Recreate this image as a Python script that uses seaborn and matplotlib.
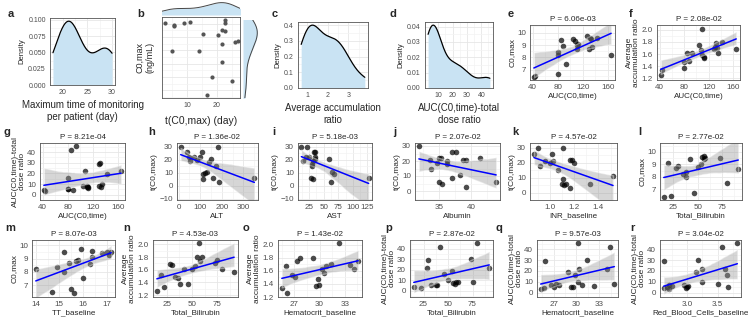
import matplotlib
matplotlib.use("Agg")
import matplotlib.pyplot as plt
from matplotlib.ticker import MultipleLocator, AutoMinorLocator, NullFormatter
from matplotlib.collections import PathCollection
import seaborn as sns

# ---- distributions (a, c, d) ----
monitor_days = [18, 19, 20, 20, 21, 21, 21, 21, 22, 22, 22, 23, 24, 26, 28, 28, 29, 29, 30, 30]
accum_ratio_all = [0.7, 0.8, 0.9, 1.0, 1.1, 1.2, 1.2, 1.3, 1.4, 1.6, 1.8, 2.0, 2.2, 2.3, 2.4, 2.5, 2.7, 2.9, 3.1, 3.8]
dose_ratio_all = [4, 3, 16, 5, 5, 42, 4, 46, 8, 22, 7, 7, 6, 29, 30, 7, 10, 19, 22, 8]

# ---- panel b ----
tmax_b = [2.4, 5.6, 5.6, 8.8, 11, 22.6, 22.6, 21.7, 22.6, 15.2, 20.4, 21.7, 26, 27, 5, 14, 21.7, 18.3, 25, 16.6]
c0max_b = [9.64, 9.56, 9.49, 9.64, 9.68, 9.75, 9.64, 9.31, 9.25, 9.13, 9.07, 8.69, 8.77, 8.81, 8.39, 8.39, 7.89, 7.2, 7.02, 6.4]

# ---- regression panels ----
e_x = [42, 44, 80, 80, 81, 85, 88, 93, 105, 108, 110, 110, 113, 127, 130, 132, 133, 135, 142, 165]
e_y = [6.4, 6.5, 6.7, 8.2, 8.4, 9.4, 8.9, 7.5, 9.5, 9.3, 9.0, 8.7, 9.1, 9.7, 8.7, 9.6, 9.5, 8.8, 9.6, 8.2]
f_x = [42, 44, 80, 80, 85, 88, 93, 105, 108, 110, 110, 112, 113, 128, 130, 132, 133, 135, 142, 165]
f_y = [1.26, 1.33, 1.37, 1.47, 1.61, 1.49, 1.61, 1.75, 1.66, 2.02, 1.58, 1.55, 1.53, 1.69, 1.72, 1.78, 1.70, 1.62, 1.80, 1.69]
g_x = [42, 44, 80, 80, 81, 85, 88, 93, 105, 108, 110, 112, 113, 130, 132, 133, 135, 142, 165, 130, 110]
g_y = [4, 3, 16, 5, 5, 42, 4, 46, 8, 22, 7, 7, 6, 29, 30, 7, 10, 19, 22, 8, 8]
h_x = [10, 40, 50, 55, 70, 85, 100, 110, 115, 115, 120, 130, 140, 150, 160, 180, 185, 175, 350]
h_y = [30, 26, 22, 19, 22, 20, 22, 26, 5, 9, 10, 11, 18, 21, 6, 30, 3, 15, 6]
i_x = [12, 15, 22, 25, 28, 30, 32, 33, 35, 35, 36, 30, 60, 62, 65, 68, 127, 20, 32]
i_y = [30, 19, 30, 22, 6, 15, 5, 26, 26, 22, 21, 17, 21, 3, 11, 9, 6, 22, 19]
j_x = [31.8, 33.5, 33.7, 34.7, 35, 35.3, 35, 35.5, 36.3, 36.3, 37, 37, 37.6, 38.3, 38.7, 39.2, 39.3, 41.5, 44]
j_y = [30, 21, 15, 19, 22, 22, 6, 5, 20, 18, 26, 9, 26, 11, 21, 21, 3, 22, 6]
k_x = [0.87, 0.9, 0.92, 0.96, 1.0, 1.02, 1.03, 1.07, 1.1, 1.11, 1.11, 1.12, 1.13, 1.17, 1.18, 1.17, 1.2, 1.33, 1.52]
k_y = [26, 30, 18, 21, 20, 26, 21, 15, 6, 9, 30, 5, 6, 22, 22, 3, 20, 6, 11]
l_x = [15, 19, 22, 28, 30, 35, 38, 38, 42, 46, 50, 53, 55, 57, 57, 58, 73, 80, 92]
l_y = [6.4, 9.1, 6.5, 8.7, 8.9, 8.2, 8.4, 8.0, 9.4, 6.7, 8.8, 9.0, 9.6, 9.7, 9.4, 9.5, 9.5, 7.5, 8.6]
m_x = [14, 14.7, 14.9, 15.2, 15.2, 15.4, 15.5, 15.6, 15.7, 15.8, 15.9, 16, 16.3, 16.4, 16.4, 16.8, 17.0, 17.1, 17.2]
m_y = [8.2, 6.5, 8.4, 9.5, 8.0, 8.7, 6.7, 6.4, 8.8, 8.9, 9.7, 7.5, 8.6, 9.6, 9.1, 9.4, 9.5, 9.3, 9.5]
n_x = [15, 19, 22, 28, 30, 33, 36, 38, 42, 46, 50, 53, 55, 57, 58, 60, 73, 75, 80, 92]
n_y = [1.26, 1.52, 1.33, 1.69, 1.68, 1.49, 1.47, 1.37, 1.62, 1.38, 1.62, 1.66, 1.80, 2.02, 1.74, 1.80, 1.70, 1.75, 1.62, 1.56]
o_x = [25.5, 26, 26.1, 26.7, 27.1, 27.3, 27.7, 29.2, 29.6, 29.8, 29.9, 30.3, 30.5, 30.8, 31.4, 32.3, 33.6, 34.1, 34.6]
o_y = [1.33, 1.68, 1.26, 1.53, 1.50, 1.75, 1.80, 1.80, 1.37, 1.47, 1.38, 1.62, 1.57, 1.67, 1.70, 2.02, 1.69, 1.62, 1.75]
p_x = [15, 22, 28, 30, 33, 38, 39, 42, 46, 50, 54, 55, 57, 58, 60, 73, 75, 80, 92]
p_y = [4, 3, 22, 29, 5, 5, 5, 42, 16, 10, 19, 7, 6, 8, 8, 30, 8, 46, 22]
q_x = [25.3, 25.8, 25.9, 26.6, 27, 27.3, 27.7, 28.9, 29.3, 29.6, 29.8, 30.2, 30.4, 30.8, 30.2, 31.4, 32.3, 34.1, 34.4, 35]
q_y = [3, 4, 29, 7, 5, 8, 7, 19, 5, 5, 16, 10, 22, 7, 46, 30, 6, 22, 42, 8]
r_x = [2.62, 2.63, 2.67, 2.7, 2.71, 2.76, 2.95, 2.98, 3.0, 3.01, 3.15, 3.18, 3.25, 3.25, 3.5, 3.57, 3.62, 3.65, 3.66, 3.82]
r_y = [29, 4, 5, 3, 7, 6, 7, 4, 5, 6, 19, 30, 22, 10, 8, 42, 22, 16, 5, 46]

p_values = ["P = 6.06e-03", "P = 2.08e-02", "P = 8.21e-04", "P = 1.36e-02", "P = 5.18e-03", "P = 2.07e-02",
            "P = 4.57e-02", "P = 2.77e-02", "P = 8.07e-03", "P = 4.53e-03", "P = 1.43e-02", "P = 2.87e-02",
            "P = 9.57e-03", "P = 3.04e-02"]

acc_lab = "Average\naccumulation ratio"
dose_lab = "AUC(C0,time)-total\ndose ratio"
tmax_lab = "t(C0,max)"

W, H = 750, 318
sns.set_theme(style="white")
plt.rcParams['font.family'] = ['Liberation Sans', 'DejaVu Sans']
fig = plt.figure(figsize=(7.5, 3.18), dpi=100)


def box(l, t, r, b):
    return [l / W, 1 - b / H, (r - l) / W, (b - t) / H]


def style(ax, xstep, ystep, size=5.8):
    ax.xaxis.set_major_locator(MultipleLocator(xstep))
    ax.yaxis.set_major_locator(MultipleLocator(ystep))
    ax.xaxis.set_minor_locator(AutoMinorLocator(2))
    ax.yaxis.set_minor_locator(AutoMinorLocator(2))
    ax.grid(which='major', color='#e6e6e6', lw=0.6)
    ax.grid(which='minor', color='#f3f3f3', lw=0.5)
    ax.set_axisbelow(True)
    ax.tick_params(which='minor', length=0)
    ax.tick_params(which='major', length=2, width=0.5, color='#333333',
                   labelsize=size, labelcolor='#4d4d4d', pad=1)
    for s in ax.spines.values():
        s.set_color('#555555')
        s.set_linewidth(0.6)


def letter(x, y, s):
    fig.text(x / W, 1 - y / H, s, fontsize=8, fontweight='bold', ha='left', va='center')


blue_fill = '#c9e3f3'

# ---- a, c, d densities ----
dens = [
    ("a", monitor_days, "Maximum time of monitoring\nper patient (day)", (50, 18, 115, 85), 5, 0.025, (8, 14), 1.0),
    ("c", accum_ratio_all, "Average accumulation\nratio", (298, 22, 368, 88), 1, 0.1, (272, 14), 1.0),
    ("d", dose_ratio_all, "AUC(C0,time)-total\ndose ratio", (425, 22, 493, 88), 10, 0.01, (389, 14), 0.8),
]
for lt, data, xl, bx, xs, ys, lp, bw in dens:
    ax = fig.add_axes(box(*bx))
    sns.kdeplot(x=data, ax=ax, cut=0, bw_adjust=bw, fill=True, color=blue_fill, alpha=1, linewidth=0)
    sns.kdeplot(x=data, ax=ax, cut=0, bw_adjust=bw, color='black', linewidth=0.9)
    style(ax, xs, ys, size=5)
    ax.set_xlabel(xl, fontsize=7, labelpad=3)
    ax.set_ylabel("Density", fontsize=5.5, labelpad=2)
    letter(*lp, lt)

# ---- b: scatter with marginal densities ----
axb = fig.add_axes(box(162, 17, 240, 98))
sns.scatterplot(x=tmax_b, y=c0max_b, ax=axb, color='#555555', s=9, linewidth=0)
style(axb, 10, 0.6, size=5)
axb.set_xlim(1.5, 27.8)
axb.set_ylim(6.25, 9.9)
axb.yaxis.set_major_formatter(NullFormatter())
axb.set_xlabel("t(C0,max) (day)", fontsize=7.5, labelpad=5)
axb.set_ylabel("C0,max\n(ng/mL)", fontsize=6.5, labelpad=2)
letter(137, 14, "b")

axt = fig.add_axes(box(162, 2, 240, 15), sharex=axb)
sns.kdeplot(x=tmax_b, ax=axt, fill=True, color=blue_fill, alpha=1, linewidth=0)
sns.kdeplot(x=tmax_b, ax=axt, color='#444444', linewidth=0.7)
axt.set_ylim(bottom=0)
axt.axis('off')

axr = fig.add_axes(box(243, 20, 258, 98), sharey=axb)
sns.kdeplot(y=c0max_b, ax=axr, fill=True, color=blue_fill, alpha=1, linewidth=0)
sns.kdeplot(y=c0max_b, ax=axr, color='#444444', linewidth=0.7)
axr.set_xlim(left=0)
axr.axis('off')

# ---- regression panels ----
reg = [
    ("e", e_x, e_y, "AUC(C0,time)", "C0,max", (530, 25, 615, 80), 40, 1, (6.2, 10.6), (508, 14)),
    ("f", f_x, f_y, "AUC(C0,time)", acc_lab, (657, 25, 740, 80), 40, 0.2, (1.17, 2.08), (629, 14)),
    ("g", g_x, g_y, "AUC(C0,time)", dose_lab, (40, 143, 125, 200), 40, 10, (-5, 48.5), (4, 132)),
    ("h", h_x, h_y, "ALT", tmax_lab, (177, 143, 258, 200), 100, 10, (-11, 33), (148, 132)),
    ("i", i_x, i_y, "AST", tmax_lab, (298, 143, 372, 200), 25, 10, (-11, 33), (272, 132)),
    ("j", j_x, j_y, "Albumin", tmax_lab, (415, 143, 500, 200), 5, 10, (-6, 32), (393, 132)),
    ("k", k_x, k_y, "INR_baseline", tmax_lab, (530, 143, 617, 200), 0.2, 10, (-5, 33), (512, 132)),
    ("l", l_x, l_y, "Total_Bilirubin", "C0,max", (660, 143, 742, 200), 25, 1, (6.15, 10.7), (638, 132)),
    ("m", m_x, m_y, "TT_baseline", "C0,max", (32, 240, 115, 297), 1, 1, (6.1, 10.4), (5, 228)),
    ("n", n_x, n_y, "Total_Bilirubin", acc_lab, (153, 240, 238, 297), 25, 0.2, (1.17, 2.07), (123, 228)),
    ("o", o_x, o_y, "Hematocrit_baseline", acc_lab, (278, 240, 362, 297), 3, 0.2, (1.2, 2.07), (243, 228)),
    ("p", p_x, p_y, "Total_Bilirubin", dose_lab, (410, 240, 493, 297), 25, 10, (-6, 48.5), (385, 228)),
    ("q", q_x, q_y, "Hematocrit_baseline", dose_lab, (537, 240, 618, 297), 3, 10, (-4, 48.5), (495, 228)),
    ("r", r_x, r_y, "Red_Blood_Cells_baseline", dose_lab, (660, 240, 741, 297), 0.5, 10, (-4, 48.5), (630, 228)),
]
for (lt, x, y, xl, yl, bx, xs, ys, yr, lp), pv in zip(reg, p_values):
    ax = fig.add_axes(box(*bx))
    sns.regplot(x=x, y=y, ax=ax, color='blue', truncate=True,
                scatter_kws=dict(color='black', alpha=0.7, s=16, linewidths=0),
                line_kws=dict(lw=1.1))
    for c in ax.collections:
        if not isinstance(c, PathCollection):
            c.set_facecolor('#999999')
            c.set_alpha(0.4)
    style(ax, xs, ys)
    ax.set_ylim(*yr)
    ax.set_title(pv, fontsize=5.8, pad=3)
    ax.set_xlabel(xl, fontsize=5.8, labelpad=1)
    ax.set_ylabel(yl, fontsize=6, labelpad=1, linespacing=1.0)
    letter(*lp, lt)

fig.savefig("out.png", dpi=100)
